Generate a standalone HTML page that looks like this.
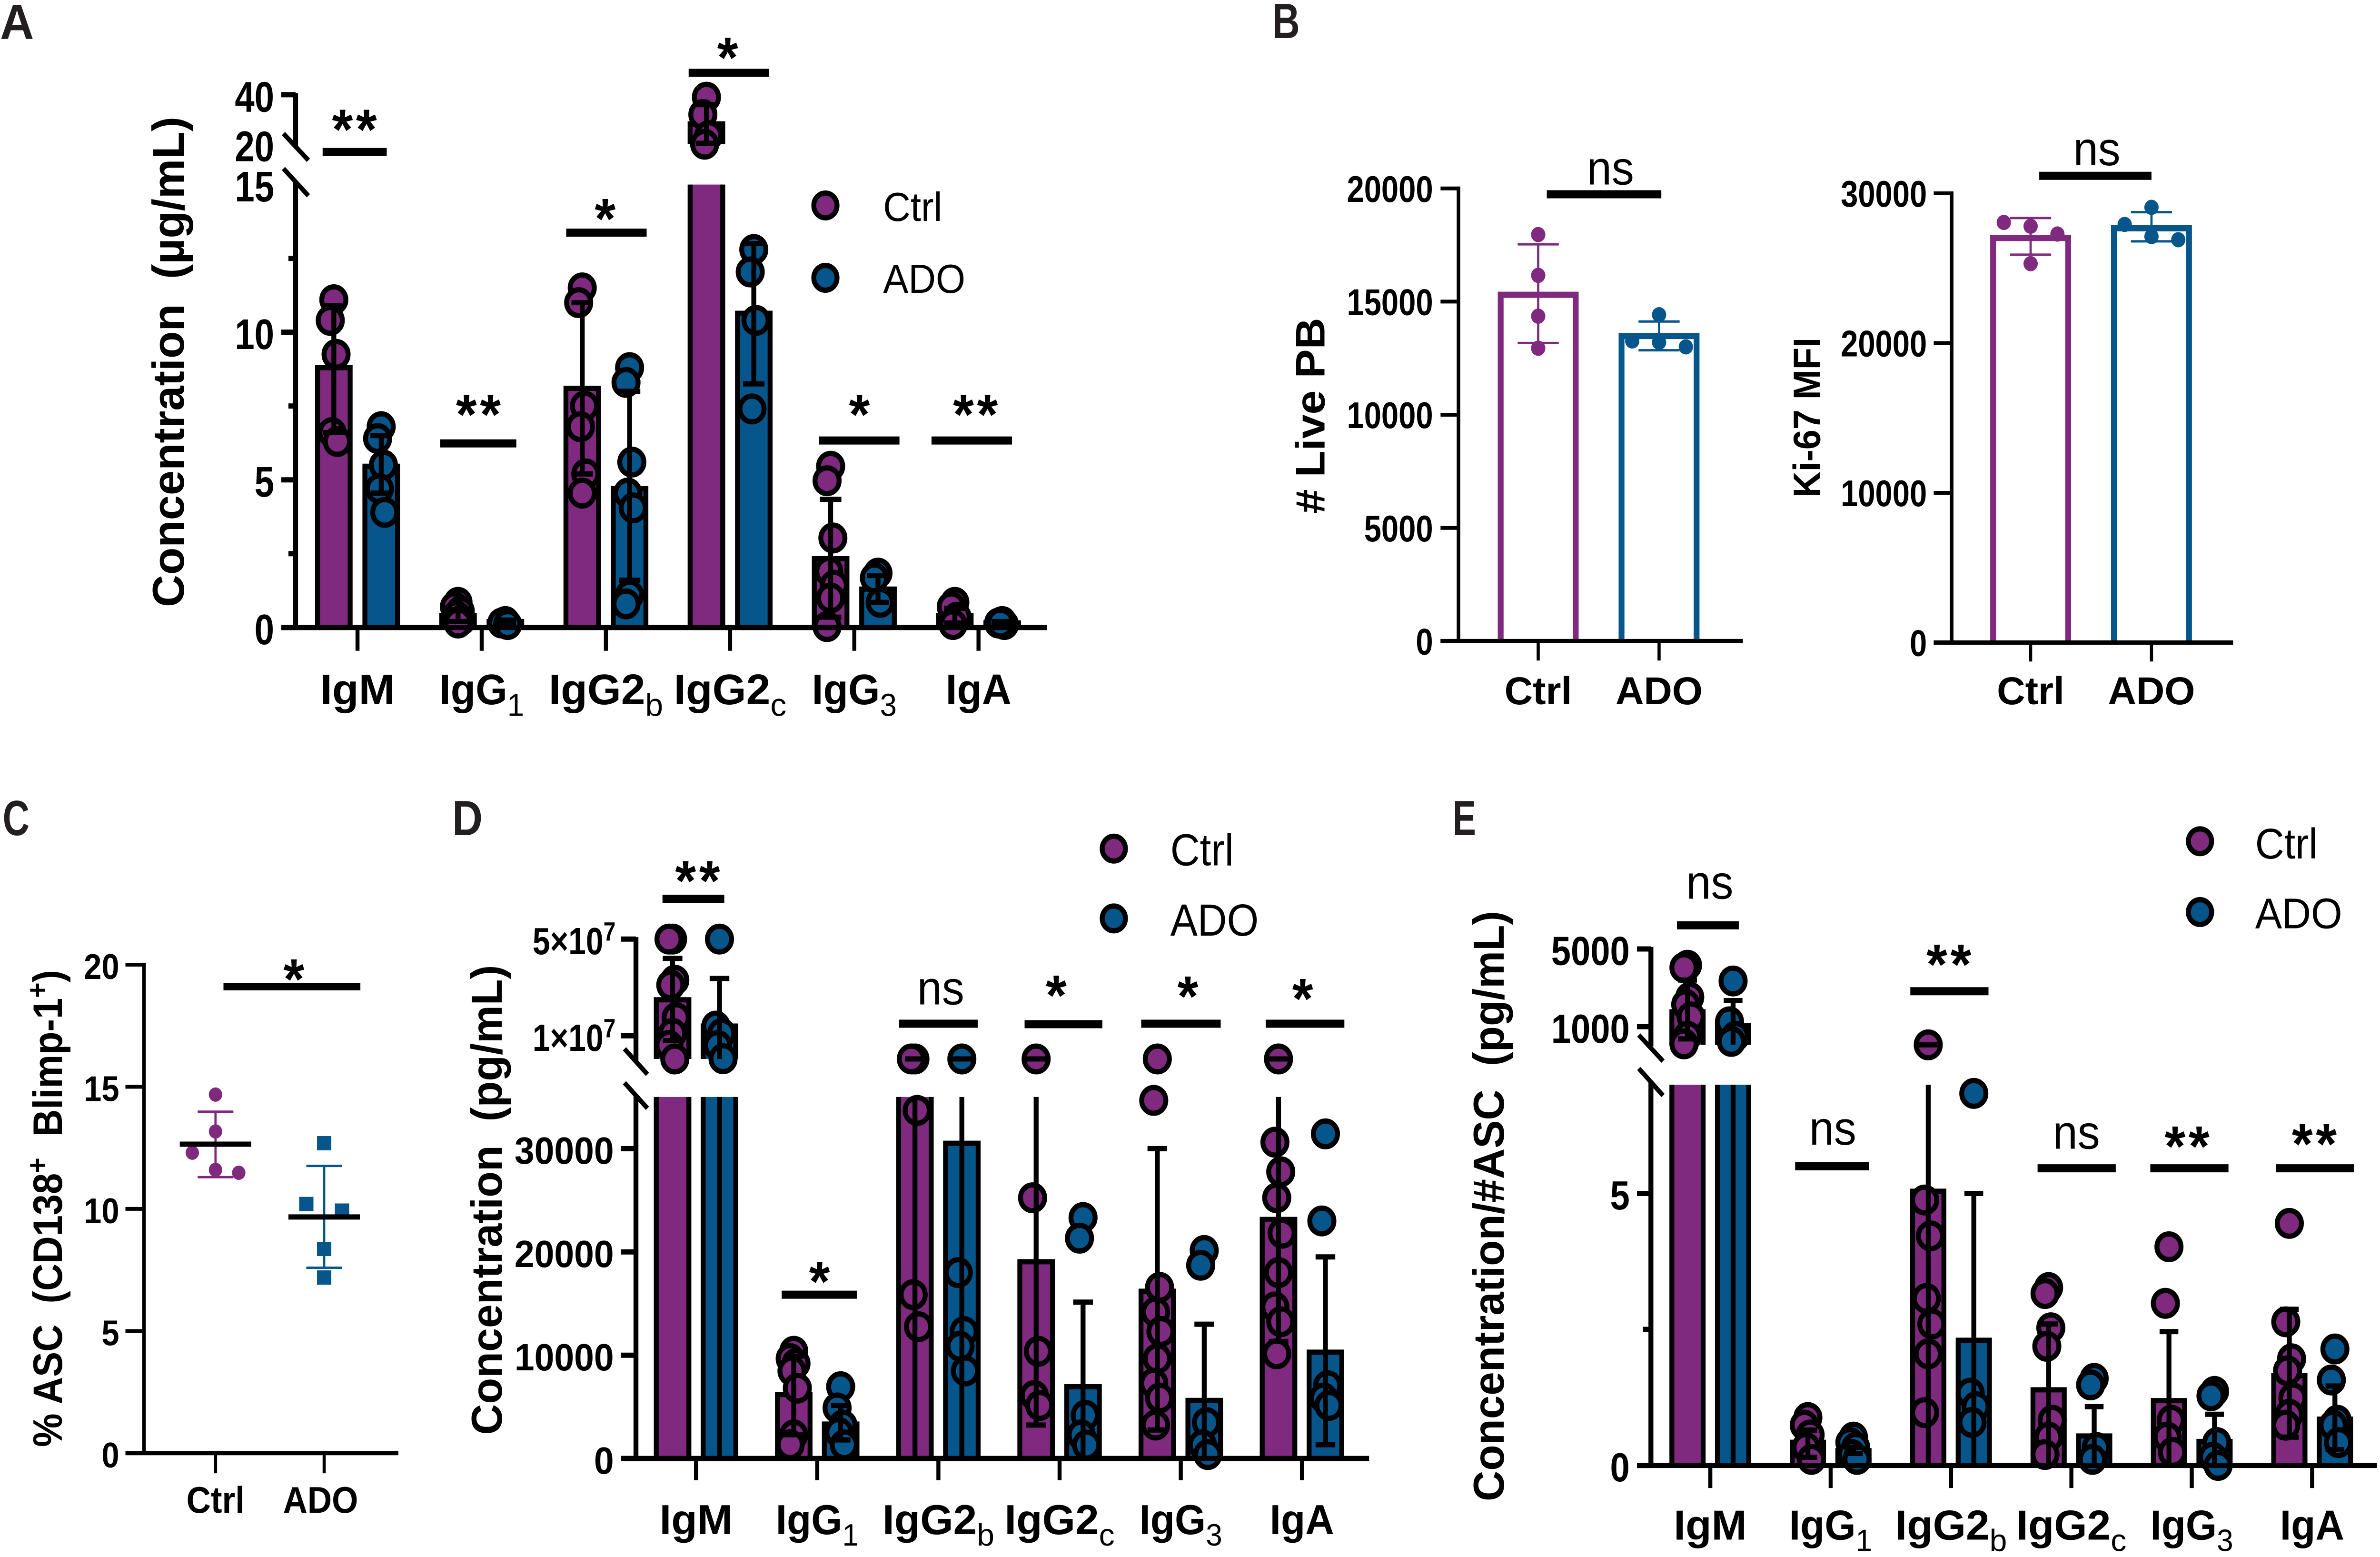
<!DOCTYPE html>
<html lang="en">
<head>
<meta charset="utf-8">
<meta name="viewport" content="width=5327, initial-scale=1">
<title>Immunoglobulin concentration figure</title>
<style>
html,body{margin:0;padding:0;background:#fff;width:100%;height:100%;overflow:hidden}
svg{display:block;position:fixed;left:0;top:0;width:100vw;height:100vh}
text{white-space:pre;fill:#000}
</style>
</head>
<body>
<svg id="figure" xmlns="http://www.w3.org/2000/svg" viewBox="0 0 5327 3270" preserveAspectRatio="none">
<rect x="0" y="0" width="5327" height="3270" fill="#fff"/>
<g id="panel-a"></g>
<g id="panel-b"></g>
<g id="panel-c"></g>
<g id="panel-d"></g>
<g id="panel-e"></g>
</svg>
<script>
/* ---------- shared category labels ---------- */
const isotypeBase = ['IgM', 'IgG', 'IgG2', 'IgG2', 'IgG', 'IgA'];
const isotypeSub = ['', '1', 'b', 'c', '3', ''];
const groupNames = ['Ctrl', 'ADO'];

/* ---------- panel A values (µg/mL) ---------- */
const aCtrlMeans = [8.8, 0.4, 8.1, 28.2, 2.33, 0.4];
const aAdoMeans = [5.46, 0.2, 4.7, 10.64, 1.3, 0.15];
const aCtrlHigh = [10.9, 0.6, 11, 36, 4.34, 0.65];
const aCtrlLow = [6.6, 0.2, 5.2, 20.4, 0.35, 0.15];
const aAdoHigh = [6.5, 0.25, 8, 13, 1.76, 0.2];
const aAdoLow = [4.55, 0.15, 1.6, 8.25, 0.85, 0.1];
const aCtrlPoints = [
  [11.1, 10.4, 9.25, 6.6, 6.3],
  [0.85, 0.7, 0.55, 0.4, 0.25, 0.15],
  [11.5, 11.0, 7.5, 6.8, 5.2, 4.55],
  [39, 32, 23.5, 20],
  [5.46, 4.97, 3.03, 1.9, 1.43, 1.0, 0.03],
  [0.85, 0.7, 0.35, 0.1]
];
const aAdoPoints = [
  [6.8, 6.4, 5.5, 4.7, 3.9],
  [0.2, 0.15, 0.1],
  [8.8, 8.3, 5.6, 4.55, 4.05, 1.1, 0.8],
  [12.8, 12.04, 10.4, 7.4],
  [1.84, 1.68, 0.85],
  [0.2, 0.15, 0.1, 0.15]
];
const aTickLabels = ['0', '5', '10', '15', '20', '40'];
const aTickLabelValues = [0, 5, 10, 15, 20, 40];
const aMajorTicks = [0, 5, 10, 40];
const aMinorTicks = [2.5, 7.5, 12.5];

/* ---------- panel B values ---------- */
const bLiveMeans = [15300, 13480];
const bLiveHigh = [17530, 14120];
const bLiveLow = [13170, 12850];
const bLiveCtrlPoints = [17961, 16160, 14356, 12940];
const bLiveAdoPoints = [14420, 13260, 13200, 13000];
const bLiveTicks = [0, 5000, 10000, 15000, 20000];
const bKiMeans = [27016, 27665];
const bKiHigh = [28350, 28740];
const bKiLow = [25900, 26790];
const bKiCtrlPoints = [28054, 27800, 27280, 25300];
const bKiAdoPoints = [29060, 27920, 27110, 26900];
const bKiTicks = [0, 10000, 20000, 30000];

/* ---------- panel C values (%) ---------- */
const cMeans = [12.65, 9.67];
const cHigh = [13.98, 11.76];
const cLow = [11.3, 7.59];
const cCtrlPoints = [14.68, 13.17, 12.3, 11.6, 11.48];
const cAdoPoints = [12.69, 10.2, 9.93, 8.36, 7.19];
const cTicks = [0, 5, 10, 15, 20];

/* ---------- panel D values (pg/mL) ---------- */
const dCtrlMeans = [2.49e7, 6190, 36000, 19050, 16190, 23140];
const dAdoMeans = [1.4e7, 3333, 30520, 6950, 5620, 10290];
const dCtrlHigh = [4.2e7, 9900, 4e5, 4e5, 30000, 4e5];
const dCtrlLow = [0.8e7, 2300, 0, 3240, 2760, 11330];
const dAdoHigh = [3.37e7, 5140, 4e5, 15140, 13000, 19520];
const dAdoLow = [0, 1800, 0, 0, 0, 1333];
const dCtrlPoints = [
  [5e7, 5e7, 3.3e7, 3.1e7, 1.75e7, 1.1e7, 0.6e7, 0.4e6],
  [10380, 9670, 9190, 8476, 6810, 2286, 1333],
  [4e5, 4e5, 33700, 15860, 12760],
  [4e5, 25240, 10380, 6100, 5140],
  [4e5, 34670, 16570, 14190, 12290, 9670, 7290, 5860, 3240],
  [4e5, 30620, 27760, 25240, 21810, 18000, 14670, 13240, 10140]
];
const dAdoPoints = [
  [5e7, 1.4e7, 1.1e7, 0.6e7, 0.5e6],
  [6950, 4900, 3240, 2520, 1330],
  [4e5, 18000, 12290, 10860, 8480],
  [23330, 21330, 4190, 2290, 1300],
  [20140, 18710, 3480, 1330, 380],
  [31430, 23000, 7050, 5860, 5140]
];
const dLowerTicks = [0, 10000, 20000, 30000];
const dUpperTicks = [1e7, 5e7];
const dUpperTickLabels = ['1×10', '5×10'];
const dUpperTickPower = '7';

/* ---------- panel E values (pg/mL per ASC) ---------- */
const eCtrlMeans = [1760, 0.425, 5.04, 1.39, 1.19, 1.65];
const eAdoMeans = [1050, 0.27, 2.3, 0.54, 0.44, 0.85];
const eCtrlHigh = [3400, 0.65, 63, 2.6, 2.46, 2.87];
const eCtrlLow = [370, 0.15, 0, 0, 0, 0.52];
const eAdoHigh = [2340, 0.33, 5, 1.08, 0.94, 1.46];
const eAdoLow = [0, 0.22, 0, 0, 0, 0.29];
const eCtrlPoints = [
  [4160, 4040, 2518, 2140, 1500, 500, 115],
  [0.88, 0.74, 0.56, 0.33, 0.11],
  [63, 4.88, 4.22, 3.07, 2.6, 2.05, 0.97],
  [3.27, 3.16, 2.53, 2.19, 0.83, 0.52, 0.2],
  [4.02, 2.98, 0.83, 0.52, 0.24],
  [4.45, 2.64, 1.96, 1.74, 1.24, 0.94, 0.74]
];
const eAdoPoints = [
  [3350, 1250, 500, 240],
  [0.52, 0.42, 0.33, 0.2, 0.11],
  [6.84, 1.33, 1.08, 0.79],
  [1.6, 1.48, 0.33, 0.11],
  [1.36, 1.28, 0.42, 0.15, 0],
  [2.14, 1.57, 0.83, 0.74, 0.42]
];
const eLowerTicks = [0, 5];
const eMinorTicks = [2.5];
const eUpperTicks = [1000, 5000];

/* ---------- helpers ---------- */
const PURPLE = '#7f2a7f';
const BLUE = '#06568c';
const FONT = '"Liberation Sans", sans-serif';
const NS = 'http://www.w3.org/2000/svg';

function shape(tag, attrs, parent) {
  const node = document.createElementNS(NS, tag);
  for (const key in attrs) node.setAttribute(key, attrs[key]);
  parent.appendChild(node);
  return node;
}
function frame(id, ox, oy, fx, fy) {
  return {g: document.getElementById(id), X: z => ox + z * fx, Y: z => oy + z * fy};
}
function linear(v0, p0, v1, p1) {
  return v => p0 + (v - v0) * (p1 - p0) / (v1 - v0);
}
/* y axis with an optional break: lower domain [0,lowV], upper domain [upV0,upV1] */
function brokenScale(base, lowV, lowY, upV0, upY0, upV1, upY1) {
  const low = linear(0, base, lowV, lowY);
  const gap = linear(lowV, lowY, upV0, upY0);
  const up = linear(upV0, upY0, upV1, upY1);
  return v => v <= lowV ? low(v) : (v < upV0 ? gap(v) : up(v));
}
function addText(parent, segs, x, y, o) {
  const t = shape('text', {
    x: 0, y: 0, 'font-size': o.size, 'font-weight': o.weight || 'bold',
    'font-family': FONT, 'text-anchor': o.anchor || 'middle',
    transform: 'translate(' + x + ' ' + y + ') rotate(' + (o.rot || 0) + ') scale(' + (o.hs || 1) + ' 1)'
  }, parent);
  if (o.fill) t.setAttribute('style', 'fill:' + o.fill);
  if (o.spacing) t.setAttribute('letter-spacing', o.spacing);
  if (o.len) { t.setAttribute('textLength', o.len); t.setAttribute('lengthAdjust', 'spacingAndGlyphs'); }
  let shift = 0;
  const list = typeof segs === 'string' ? [[segs, '']] : segs;
  list.forEach(seg => {
    const ts = shape('tspan', {}, t);
    ts.textContent = seg[0];
    let target = 0;
    if (seg[1] === 'sub') { target = o.size * 0.27; ts.setAttribute('font-size', o.size * 0.74); ts.setAttribute('font-weight', 'normal'); }
    if (seg[1] === 'sup') { target = -o.size * 0.36; ts.setAttribute('font-size', o.size * 0.7); }
    if (target !== shift) ts.setAttribute('dy', target - shift);
    shift = target;
  });
  return t;
}
function addLine(parent, x1, y1, x2, y2, width, color, name) {
  const el = shape('line', {x1: x1, y1: y1, x2: x2, y2: y2, stroke: color || '#000', 'stroke-width': width}, parent);
  
  
  return el;
}
function panelLetter(f, letter, x, y, w) {
  const el = addText(f.g, letter, x, y, {size: 104, anchor: 'start', len: w, fill: '#231f20'});
  
  
}
function yTitle(f, segs, x, yCenter, len, size) {
  const el = addText(f.g, segs, x, yCenter, {size: size, rot: -90, len: len});
  
  
}
function tickLabel(f, segs, xRight, y, size, hs) {
  const el = addText(f.g, segs, xRight, y + size * 0.36, {size: size, anchor: 'end', hs: hs});
  
  
}
function sig(f, text, zx0, zx1, zy, ztx, zty, thick) {
  addLine(f.g, f.X(zx0), f.Y(zy), f.X(zx1), f.Y(zy), thick || 17, '#000', 'significance-bar');
  const isStar = text.charAt(0) === '*';
  const el = isStar
    ? addText(f.g, text, f.X(ztx) + 3, f.Y(zty) + 60, {size: 120, weight: 'bold', spacing: 7})
    : addText(f.g, text, f.X(ztx), f.Y(zty), {size: 100, weight: 'normal'});
  
  
}
function legend(f, zDotX, zTextX, zDot1, zBase1, zDot2, zBase2, size, hs) {
  [[zDot1, zBase1, PURPLE], [zDot2, zBase2, BLUE]].forEach((row, i) => {
    const dot = shape('circle', {cx: f.X(zDotX), cy: f.Y(row[0]), r: 26, fill: row[2], stroke: '#000', 'stroke-width': 11}, f.g);
    
    
    const t = addText(f.g, groupNames[i], f.X(zTextX), f.Y(row[1]), {size: size, weight: 'normal', anchor: 'start', hs: hs});
    
    
  });
}
function slash(f, zx0, zy0, zx1, zy1) {
  addLine(f.g, f.X(zx0), f.Y(zy0), f.X(zx1), f.Y(zy1), 10, '#000', 'axis-break-mark');
}
function categoryLabels(f, zFirst, zStep, zBase, size, hs) {
  isotypeBase.forEach((base, i) => {
    const segs = isotypeSub[i] ? [[base, ''], [isotypeSub[i], 'sub']] : [[base, '']];
    const narrow = base === 'IgG' || base === 'IgA';
    const el = addText(f.g, segs, f.X(zFirst + i * zStep), f.Y(zBase), {size: size, hs: narrow ? hs * 0.94 : hs});
    
    
  });
}
/* filled bars with black outline, broken into segments when they cross the axis gap */
function drawFilledBar(f, cx, half, mean, s, color) {
  const l = cx - half, r = cx + half;
  const lowTop = s.y(Math.min(mean, s.lowV));
  const fillLow = shape('rect', {x: l, y: lowTop, width: r - l, height: s.base - lowTop, fill: color}, f.g);
  
  
  const open = mean >= s.lowV;
  const dLow = open
    ? 'M' + l + ' ' + s.base + 'V' + lowTop + 'M' + r + ' ' + lowTop + 'V' + s.base
    : 'M' + l + ' ' + s.base + 'V' + lowTop + 'H' + r + 'V' + s.base;
  const outLow = shape('path', {d: dLow, fill: 'none', stroke: '#000', 'stroke-width': 11}, f.g);
  
  
  if (s.upV0 !== undefined && mean > s.upV0) {
    const top = s.y(mean), bot = s.y(s.upV0);
    const fillUp = shape('rect', {x: l, y: top, width: r - l, height: bot - top, fill: color}, f.g);
    
    
    const outUp = shape('path', {d: 'M' + l + ' ' + bot + 'V' + top + 'H' + r + 'V' + bot, fill: 'none', stroke: '#000', 'stroke-width': 11}, f.g);
    
    
  }
}
function drawWhisker(f, cx, hi, lo, s, capHalf) {
  if (lo <= s.lowV) addLine(f.g, cx, s.y(lo), cx, s.y(Math.min(hi, s.lowV)), 11, '#000', 'error-whisker');
  if (s.upV0 !== undefined && hi >= s.upV0 && hi > s.lowV) addLine(f.g, cx, s.y(Math.max(lo, s.upV0)), cx, s.y(hi), 11, '#000', 'error-whisker');
  addLine(f.g, cx - capHalf, s.y(hi), cx + capHalf, s.y(hi), 11, '#000', 'error-cap-high');
  if (lo > 0) addLine(f.g, cx - capHalf, s.y(lo), cx + capHalf, s.y(lo), 11, '#000', 'error-cap-low');
}
function drawSwarm(f, cx, values, s, color, r) {
  const steps = [0, -8, 5, -4, 8];
  values.forEach((v, i) => {
    const dot = shape('circle', {cx: cx + steps[i % steps.length], cy: s.y(v), r: r, fill: color, stroke: '#000', 'stroke-width': 11}, f.g);
    
    
  });
}
function drawGroupedBars(f, s, zFirst, zStep, offset, half, capHalf, r, means, highs, lows, pts, adoMeans, adoHighs, adoLows, adoPts) {
  isotypeBase.forEach((name, i) => {
    const c = f.X(zFirst + i * zStep);
    drawFilledBar(f, c - offset, half, means[i], s, PURPLE);
    drawFilledBar(f, c + offset, half, adoMeans[i], s, BLUE);
    drawSwarm(f, c - offset, pts[i], s, PURPLE, r);
    drawWhisker(f, c - offset, highs[i], lows[i], s, capHalf);
    drawSwarm(f, c + offset, adoPts[i], s, BLUE, r);
    drawWhisker(f, c + offset, adoHighs[i], adoLows[i], s, capHalf);
  });
}
/* places nearby points side by side, the way a scatter-dot column does */
function spreadOffsets(values, scale, threshold, spread) {
  const off = values.map(() => 0);
  let start = 0;
  for (let i = 1; i <= values.length; i++) {
    if (i === values.length || Math.abs(scale(values[i]) - scale(values[i - 1])) > threshold) {
      const n = i - start;
      if (n === 2) { off[start] = -spread * 0.8; off[start + 1] = spread * 0.8; }
      if (n >= 3) for (let k = 0; k < n; k++) off[start + k] = -spread + 2 * spread * k / (n - 1);
      start = i;
    }
  }
  return off;
}
function sparsePoints(f, cx, values, scale, color, r, threshold, spread, square) {
  const off = spreadOffsets(values, scale, threshold, spread);
  values.forEach((v, i) => {
    const el = square
      ? shape('rect', {x: cx + off[i] - 16, y: scale(v) - 15, width: 32, height: 30, fill: color}, f.g)
      : shape('circle', {cx: cx + off[i], cy: scale(v), r: r, fill: color}, f.g);
    
    
  });
}
function thinError(f, cx, hi, lo, scale, color, capHalf) {
  addLine(f.g, cx, scale(lo), cx, scale(hi), 5, color, 'error-whisker');
  addLine(f.g, cx - capHalf, scale(hi), cx + capHalf, scale(hi), 5, color, 'error-cap-high');
  addLine(f.g, cx - capHalf, scale(lo), cx + capHalf, scale(lo), 5, color, 'error-cap-low');
}
function openBarPanel(f, zAxis, zLeft, zRight, zBase, zTop, zTickBottom, zCtrl, zAdo, maxV, ticks, means, highs, lows, ctrlPts, adoPts, zLabelRight) {
  const base = f.Y(zBase);
  const y = linear(0, base, maxV, f.Y(zTop));
  const cx = [f.X(zCtrl), f.X(zAdo)];
  [PURPLE, BLUE].forEach((color, i) => {
    const top = y(means[i]);
    const bar = shape('path', {d: 'M' + (cx[i] - 84) + ' ' + base + 'V' + top + 'H' + (cx[i] + 84) + 'V' + base, fill: '#fff', stroke: color, 'stroke-width': 13}, f.g);
    
    
    sparsePoints(f, cx[i], i ? adoPts : ctrlPts, y, color, 16, 30, 60, false);
    thinError(f, cx[i], highs[i], lows[i], y, color, 46);
  });
  addLine(f.g, f.X(zAxis), f.Y(zTop) - 4, f.X(zAxis), base + 4, 8, '#000', 'y-axis-line');
  addLine(f.g, f.X(zLeft), base, f.X(zRight), base, 9, '#000', 'x-axis-line');
  ticks.forEach(v => {
    addLine(f.g, f.X(zLeft), y(v), f.X(zAxis), y(v), 8, '#000', 'y-tick');
    tickLabel(f, String(v), f.X(zLabelRight), y(v), 78, 0.89);
  });
  cx.forEach((c, i) => {
    addLine(f.g, c, base, c, f.Y(zTickBottom), 7, '#000', 'x-tick');
    const t = addText(f.g, groupNames[i], c, f.Y(1450), {size: 82, hs: 1.07});
    
    
  });
}

/* ---------- panel A ---------- */
(function () {
  const f = frame('panel-a', 0, 0, 1.594, 1.02);
  const base = f.Y(1292);
  const y = brokenScale(base, 15, f.Y(380), 20, f.Y(297), 40, f.Y(195));
  const s = {y: y, base: base, lowV: 15, upV0: 20};
  panelLetter(f, 'A', 0, 82, 76);
  yTitle(f, 'Concentration  (µg/mL)', f.X(258), 760, 1030, 100);
  drawGroupedBars(f, s, 502, 174.4, 53, 36.5, 24, 27, aCtrlMeans, aCtrlHigh, aCtrlLow, aCtrlPoints, aAdoMeans, aAdoHigh, aAdoLow, aAdoPoints);
  const ax = f.X(415);
  addLine(f.g, ax, f.Y(192), ax, f.Y(302), 11, '#000', 'y-axis-upper-line');
  addLine(f.g, ax, f.Y(375), ax, base + 5, 11, '#000', 'y-axis-lower-line');
  addLine(f.g, f.X(395), base, f.X(1470), base, 11, '#000', 'x-axis-line');
  aMajorTicks.forEach(v => addLine(f.g, f.X(395), y(v), ax, y(v), 11, '#000', 'y-tick-major'));
  aMinorTicks.forEach(v => addLine(f.g, f.X(405), y(v), ax, y(v), 11, '#000', 'y-tick-minor'));
  aTickLabelValues.forEach((v, i) => tickLabel(f, aTickLabels[i], f.X(385), y(v) + 3, 90, 0.88));
  slash(f, 398, 275, 433, 330);
  slash(f, 398, 347, 433, 403);
  isotypeBase.forEach((n, i) => addLine(f.g, f.X(502 + i * 174.4), base, f.X(502 + i * 174.4), f.Y(1340), 9, '#000', 'x-tick'));
  categoryLabels(f, 502, 174.4, 1450, 90, 1.08);
  sig(f, '**', 453, 543, 313, 498, 248);
  sig(f, '**', 618, 725, 913, 672, 835);
  sig(f, '*', 795, 908, 479, 850, 432);
  sig(f, '*', 967, 1080, 150, 1022, 100);
  sig(f, '*', 1150, 1263, 907, 1207, 835);
  sig(f, '**', 1308, 1421, 907, 1370, 835);
  legend(f, 1159, 1240, 423, 455, 572, 603, 85, 1);
})();

/* ---------- panel B ---------- */
(function () {
  const f = frame('panel-b', 2700, 0, 1.675, 1.02);
  panelLetter(f, 'B', f.X(88), 80, 62);
  yTitle(f, '# Live PB', f.X(158), 873, 411, 92);
  yTitle(f, 'Ki-67 MFI', f.X(820), 877, 336, 85);
  openBarPanel(f, 337, 313, 717, 1320, 388, 1360, 443.5, 605, 20000, bLiveTicks, bLiveMeans, bLiveHigh, bLiveLow, bLiveCtrlPoints, bLiveAdoPoints, 303);
  openBarPanel(f, 996, 972, 1372, 1323, 398, 1362, 1101.5, 1263, 30000, bKiTicks, bKiMeans, bKiHigh, bKiLow, bKiCtrlPoints, bKiAdoPoints, 963);
  sig(f, 'ns', 455, 608, 400, 540, 380);
  sig(f, 'ns', 1113, 1263, 362, 1190, 340);
})();

/* ---------- panel C ---------- */
(function () {
  const f = frame('panel-c', 0, 1650, 1.977, 1.033);
  panelLetter(f, 'C', 6, 1754, 60);
  yTitle(f, [['% ASC  (CD138', ''], ['+', 'sup'], ['  Blimp-1', ''], ['+', 'sup'], [')', '']], f.X(70), 2538, 1002, 92);
  const base = f.Y(1357);
  const y = linear(0, base, 20, f.Y(364));
  const cx = [f.X(244), f.X(367)];
  sparsePoints(f, cx[0], cCtrlPoints, y, PURPLE, 15, 40, 52, false);
  sparsePoints(f, cx[1], cAdoPoints, y, BLUE, 15, 40, 50, true);
  [PURPLE, BLUE].forEach((color, i) => {
    thinError(f, cx[i], cHigh[i], cLow[i], y, color, 40);
    addLine(f.g, cx[i] - 80, y(cMeans[i]), cx[i] + 80, y(cMeans[i]), 11, '#000', 'mean-line');
  });
  addLine(f.g, f.X(163), f.Y(360), f.X(163), base + 4, 8, '#000', 'y-axis-line');
  addLine(f.g, f.X(142), base, f.X(451), base, 9, '#000', 'x-axis-line');
  cTicks.forEach(v => {
    addLine(f.g, f.X(142), y(v), f.X(163), y(v), 8, '#000', 'y-tick');
    tickLabel(f, String(v), f.X(135), y(v) + 3, 75, 0.95);
  });
  cx.forEach((c, i) => {
    addLine(f.g, c, base, c, f.Y(1398), 7, '#000', 'x-tick');
    const t = addText(f.g, groupNames[i], c - (i ? 8 : 0), f.Y(1478), {size: 78, hs: 0.97});
    
    
  });
  sig(f, '*', 253, 408, 409, 333, 375, 15);
})();

/* ---------- panel D ---------- */
(function () {
  const f = frame('panel-d', 0, 1650, 1.977, 1.033);
  const base = f.Y(1368);
  const y = brokenScale(base, 35000, f.Y(633), 4e5, f.Y(555.7), 5e7, f.Y(312));
  const s = {y: y, base: base, lowV: 35000, upV0: 4e5};
  panelLetter(f, 'D', f.X(512), 1754, 68);
  yTitle(f, 'Concentration  (pg/mL)', f.X(568), 2520, 987, 97);
  drawGroupedBars(f, s, 788, 137.2, 52.5, 36.5, 22, 27, dCtrlMeans, dCtrlHigh, dCtrlLow, dCtrlPoints, dAdoMeans, dAdoHigh, dAdoLow, dAdoPoints);
  const ax = f.X(720);
  addLine(f.g, ax, f.Y(308), ax, f.Y(560), 11, '#000', 'y-axis-upper-line');
  addLine(f.g, ax, f.Y(630), ax, base + 5, 11, '#000', 'y-axis-lower-line');
  addLine(f.g, f.X(703), base, f.X(1550), base, 11, '#000', 'x-axis-line');
  dLowerTicks.forEach(v => {
    addLine(f.g, f.X(703), y(v), ax, y(v), 11, '#000', 'y-tick');
    tickLabel(f, String(v), f.X(695), y(v) + 3, 80, 1);
  });
  dUpperTicks.forEach((v, i) => {
    addLine(f.g, f.X(703), y(v), ax, y(v), 11, '#000', 'y-tick');
    tickLabel(f, [[dUpperTickLabels[i], ''], [dUpperTickPower, 'sup']], f.X(697), y(v) + 3, 80, 0.88);
  });
  slash(f, 707, 535, 733, 587);
  slash(f, 707, 604, 733, 656);
  isotypeBase.forEach((n, i) => addLine(f.g, f.X(788 + i * 137.2), base, f.X(788 + i * 137.2), f.Y(1412), 9, '#000', 'x-tick'));
  categoryLabels(f, 788, 137.2, 1522, 88, 1.08);
  sig(f, '**', 750, 820, 230, 790, 175);
  sig(f, '*', 885, 970, 1035, 928, 990);
  sig(f, 'ns', 1018, 1107, 484, 1065, 445);
  sig(f, '*', 1160, 1248, 485, 1196, 408);
  sig(f, '*', 1292, 1382, 484, 1345, 410);
  sig(f, '*', 1433, 1522, 484, 1475, 415);
  legend(f, 1261, 1325, 128, 162, 270, 305, 95, 0.96);
})();

/* ---------- panel E ---------- */
(function () {
  const f = frame('panel-e', 3200, 1650, 1.3565, 1.033);
  const base = f.Y(1382);
  const y = brokenScale(base, 7, f.Y(608), 63, f.Y(527), 5000, f.Y(332));
  const s = {y: y, base: base, lowV: 7, upV0: 63};
  panelLetter(f, 'E', f.X(38), 1754, 52);
  yTitle(f, 'Concentration/#ASC  (pg/mL)', f.X(122), 2533, 1240, 97);
  drawGroupedBars(f, s, 463, 198.6, 51, 35, 21, 27, eCtrlMeans, eCtrlHigh, eCtrlLow, eCtrlPoints, eAdoMeans, eAdoHigh, eAdoLow, eAdoPoints);
  const ax = f.X(365);
  addLine(f.g, ax, f.Y(328), ax, f.Y(530), 11, '#000', 'y-axis-upper-line');
  addLine(f.g, ax, f.Y(600), ax, base + 5, 11, '#000', 'y-axis-lower-line');
  addLine(f.g, f.X(342), base, f.X(1563), base, 11, '#000', 'x-axis-line');
  eLowerTicks.concat(eUpperTicks).forEach(v => {
    addLine(f.g, f.X(342), y(v), ax, y(v), 11, '#000', 'y-tick');
    tickLabel(f, String(v), f.X(330), y(v) + 3, 85, 0.93);
  });
  eMinorTicks.forEach(v => addLine(f.g, f.X(352), y(v), ax, y(v), 11, '#000', 'y-tick-minor'));
  slash(f, 345, 507, 385, 560);
  slash(f, 345, 575, 385, 630);
  isotypeBase.forEach((n, i) => addLine(f.g, f.X(463 + i * 198.6), base, f.X(463 + i * 198.6), f.Y(1428), 9, '#000', 'x-tick'));
  categoryLabels(f, 463, 198.6, 1533, 88, 1.08);
  sig(f, 'ns', 408, 510, 284, 462, 230);
  sig(f, '**', 793, 922, 418, 857, 345);
  sig(f, 'ns', 603, 725, 774, 665, 730);
  sig(f, 'ns', 1003, 1132, 778, 1067, 738);
  sig(f, '**', 1189, 1318, 778, 1250, 715);
  sig(f, '**', 1396, 1525, 778, 1460, 710);
  legend(f, 1271, 1362, 113, 148, 257, 290, 90, 1);
})();
</script>
</body>
</html>
